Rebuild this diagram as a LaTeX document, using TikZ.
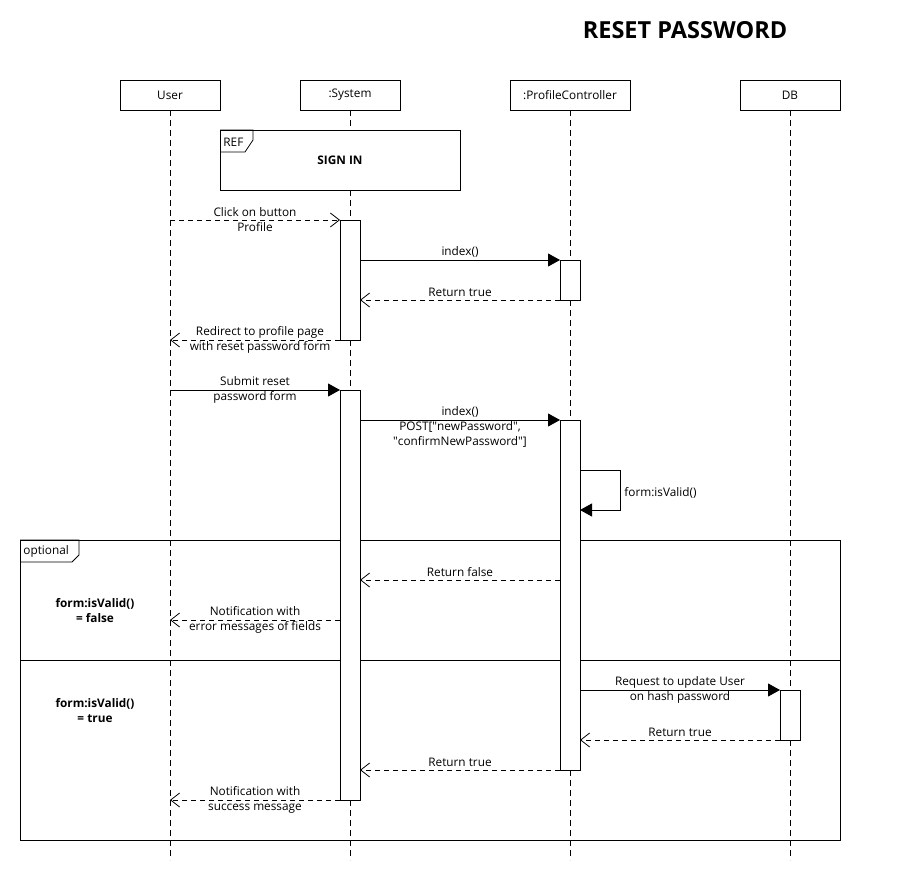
\documentclass[tikz,border=0pt]{standalone}
\usepackage{fontspec}
\setmainfont{Open Sans}
\usetikzlibrary{arrows.meta}
\usetikzlibrary{calc}
\usetikzlibrary{positioning}

\tikzset{
  head/.style={draw,rectangle,minimum width=100pt,minimum height=30pt,inner sep=0pt,outer sep=0pt,font=\fontsize{11.8}{14}\selectfont},
  life/.style={draw,dash pattern=on 6pt off 4pt},
  act/.style={draw,fill=white,rectangle,minimum width=20pt,inner sep=0pt,outer sep=0pt,anchor=north},
  call/.style={draw,-{Triangle[length=12pt,width=13pt]}},
  ret/.style={draw,dash pattern=on 5pt off 4pt,-{Straight Barb[length=9pt,width=14pt]}},
  msg/.style={align=center,inner sep=0pt,font=\fontsize{11.8}{15}\selectfont},
  guard/.style={align=center,inner sep=0pt,font=\fontsize{11.8}{15}\selectfont\bfseries},
}

\begin{document}
\begin{tikzpicture}[x=1pt,y=-1pt,line width=0.8pt]

  \useasboundingbox (0,0) rectangle (910,890);

  \node [font=\fontsize{23.5}{28}\selectfont\bfseries] (title) at (685,30) {RESET PASSWORD};

  \node [head] (User) at (170,95) {User};
  \node [head,right=80pt of User] (System) {:System};
  \node [head,minimum width=120pt,right=110pt of System] (PC) {:ProfileController};
  \node [head,right=110pt of PC] (DB) {DB};

  \coordinate (bottom) at (0,860);

  \path [life]
    (User.south)   edge (User |- bottom)
    (System.south) edge (System |- bottom)
    (PC.south)     edge (PC |- bottom)
    (DB.south)     edge (DB |- bottom);

  \node [draw,fill=white,rectangle,minimum width=240pt,minimum height=60pt,inner sep=0pt,outer sep=0pt,
         anchor=north west,font=\fontsize{11.8}{14}\selectfont\bfseries] (REF) at (220,130) {SIGN IN};
  \draw (REF.north west) -- ++(33,0) -- ++(0,10) -- ++(-8,12) -- ++(-25,0);
  \node [anchor=west,inner sep=0pt,font=\fontsize{11.8}{14}\selectfont] (REF_lab) at (223,142) {REF};

  \node [draw,rectangle,minimum width=820pt,minimum height=300pt,inner sep=0pt,outer sep=0pt,anchor=north west] (opt) at (20,540) {};
  \draw (opt.north west) -- ++(59,0) -- ++(0,15) -- ++(-7,7) -- ++(-52,0);
  \node [anchor=west,inner sep=0pt,font=\fontsize{11.8}{14}\selectfont] (opt_lab) at (23,551) {optional};
  \coordinate (split) at (0,660);
  \draw (opt.west |- split) -- (opt.east |- split);

  \node [guard] (G_false) at (95,611) {form:isValid()\\= false};
  \node [guard] (G_true) at (95,711) {form:isValid()\\= true};

  \node [act,minimum height=120pt] (S_act_1) at (350,220) {};
  \node [act,minimum height=40pt]  (P_act_1) at (570,260) {};
  \node [act,minimum height=410pt] (S_act_2) at (350,390) {};
  \node [act,minimum height=350pt] (P_act_2) at (570,420) {};
  \node [act,minimum height=50pt]  (D_act)   at (790,690) {};

  \path [ret] (User |- S_act_1.north) -- (S_act_1.north west)
    node [msg,midway] {Click on button\\Profile};
  \path [call] (S_act_1.east |- P_act_1.north) -- (P_act_1.north west)
    node [msg,midway,above=2pt] {index()};
  \path [ret] (P_act_1.south west) -- (S_act_1.east |- P_act_1.south)
    node [msg,midway,above=3pt] {Return true};
  \path [ret] (S_act_1.south west) -- (User |- S_act_1.south)
    node [msg,midway,xshift=5pt] {Redirect to profile page\\with reset password form};

  \path [call] (User |- S_act_2.north) -- (S_act_2.north west)
    node [msg,midway] {Submit reset\\password form};
  \path [call] (S_act_2.east |- P_act_2.north) -- (P_act_2.north west)
    node [msg,midway,yshift=-7pt] {index()\\POST[\textquotedbl newPassword\textquotedbl,\\\textquotedbl confirmNewPassword\textquotedbl]};
  \path [call] ($(P_act_2.north east)+(0,50)$) -- ++(40,0) -- ++(0,40)
    node [msg,midway,right=4pt,yshift=-3pt] {form:isValid()} -- ++(-40,0);

  \path [ret] (P_act_2.west |- 0,580) -- (S_act_2.east |- 0,580)
    node [msg,midway,above=3pt] {Return false};
  \path [ret] (S_act_2.west |- 0,620) -- (User |- 0,620)
    node [msg,midway] {Notification with\\error messages of fields};

  \path [call] (P_act_2.east |- D_act.north) -- (D_act.north west)
    node [msg,midway] {Request to update User\\on hash password};
  \path [ret] (D_act.south west) -- (P_act_2.east |- D_act.south)
    node [msg,midway,above=3pt] {Return true};
  \path [ret] (P_act_2.south west) -- (S_act_2.east |- P_act_2.south)
    node [msg,midway,above=3pt] {Return true};
  \path [ret] (S_act_2.south west) -- (User |- S_act_2.south)
    node [msg,midway] {Notification with\\success message};

\end{tikzpicture}
\end{document}
